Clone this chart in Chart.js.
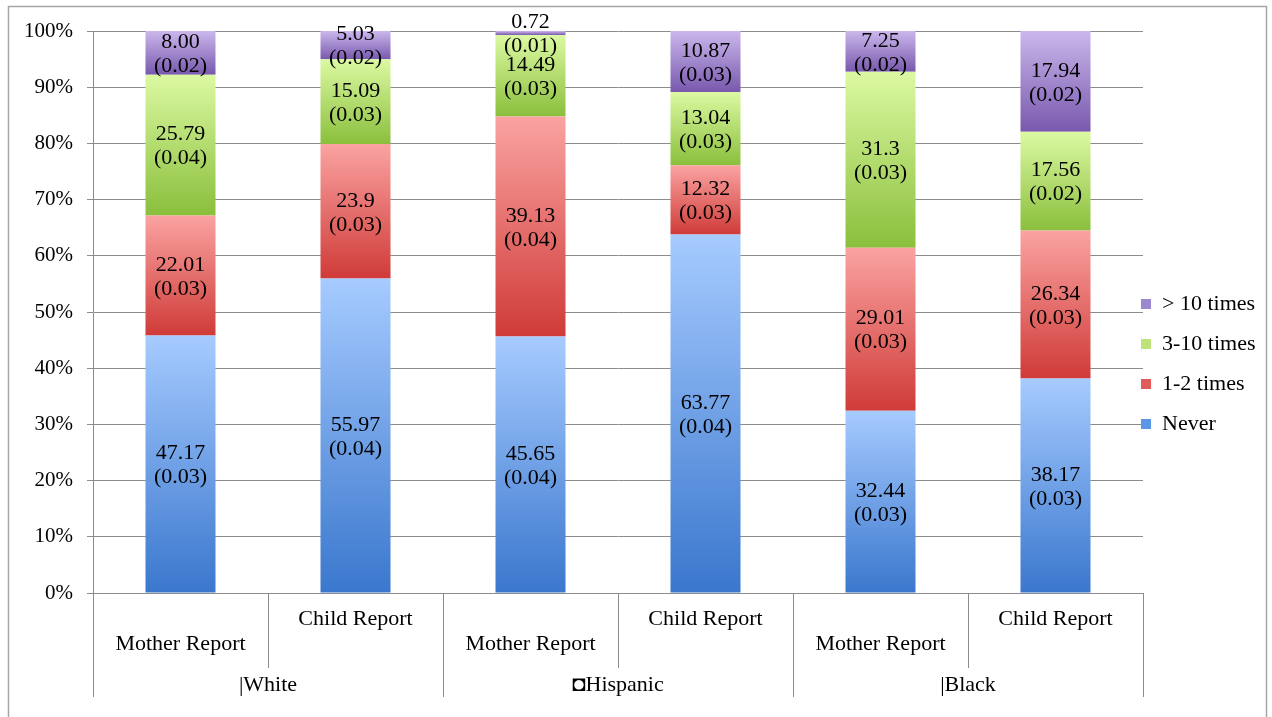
<!DOCTYPE html>
<html>
<head>
<meta charset="utf-8">
<script src="https://cdn.jsdelivr.net/npm/chart.js@4"></script>
<style>
  html, body { margin: 0; padding: 0; background: #ffffff; }
  canvas { display: block; }
</style>
</head>
<body>
<canvas id="c" width="1272" height="717"></canvas>
<script>
// ---- Data ----
const categories = ['Mother Report', 'Child Report', 'Mother Report', 'Child Report', 'Mother Report', 'Child Report'];
const groups = ['|White', '\u25D8Hispanic', '|Black'];
const seriesNames = ['Never', '1-2 times', '3-10 times', '> 10 times'];

const never      = ['47.17', '55.97', '45.65', '63.77', '32.44', '38.17'];
const neverSE    = ['(0.03)', '(0.04)', '(0.04)', '(0.04)', '(0.03)', '(0.03)'];
const once       = ['22.01', '23.9', '39.13', '12.32', '29.01', '26.34'];
const onceSE     = ['(0.03)', '(0.03)', '(0.04)', '(0.03)', '(0.03)', '(0.03)'];
const several    = ['25.79', '15.09', '14.49', '13.04', '31.3', '17.56'];
const severalSE  = ['(0.04)', '(0.03)', '(0.03)', '(0.03)', '(0.03)', '(0.02)'];
const many       = ['8.00', '5.03', '0.72', '10.87', '7.25', '17.94'];
const manySE     = ['(0.02)', '(0.02)', '(0.01)', '(0.03)', '(0.02)', '(0.02)'];

const yTicks = [0, 10, 20, 30, 40, 50, 60, 70, 80, 90, 100];

// ---- Styles ----
const gradTop    = ['#a6cbff', '#faa3a1', '#dcf9a2', '#cbb7ec'];
const gradBottom = ['#3a77cd', '#cf3b38', '#8abf3c', '#7858ad'];
const legendFill = ['#5c96e6', '#e35a5a', '#bde27a', '#9c88d0'];
const FONT = 'Liberation Serif';

const rawSeries = [never, once, several, many];
const seSeries = [neverSE, onceSE, severalSE, manySE];
const totals = categories.map((_, j) => rawSeries.reduce((s, arr) => s + parseFloat(arr[j]), 0));
const pctSeries = rawSeries.map(arr => arr.map((v, j) => parseFloat(v) / totals[j] * 100));

function segBounds(dsIndex, j) {
  let base = 0;
  for (let i = 0; i < dsIndex; i++) base += pctSeries[i][j];
  return [base, base + pctSeries[dsIndex][j]];
}

function gradientFor(dsIndex) {
  return function (ctx) {
    const chart = ctx.chart;
    const y = chart.scales && chart.scales.y;
    if (ctx.type !== 'data' || !y) return legendFill[dsIndex];
    const [b, t] = segBounds(dsIndex, ctx.dataIndex);
    const yTop = y.getPixelForValue(t);
    const yBot = y.getPixelForValue(b);
    if (!isFinite(yTop) || !isFinite(yBot) || yTop === yBot) return legendFill[dsIndex];
    const g = chart.ctx.createLinearGradient(0, yTop, 0, yBot);
    g.addColorStop(0, gradTop[dsIndex]);
    g.addColorStop(1, gradBottom[dsIndex]);
    return g;
  };
}

const datasets = seriesNames.map((name, i) => ({
  label: name,
  data: pctSeries[i],
  backgroundColor: gradientFor(i),
  borderWidth: 0,
  barPercentage: 0.4,
  categoryPercentage: 1.0,
  xAxisID: 'x',
  yAxisID: 'y'
}));

const barLabels = {
  id: 'barLabels',
  afterDatasetsDraw(chart) {
    const ctx = chart.ctx;
    ctx.save();
    ctx.font = '22px "' + FONT + '"';
    ctx.fillStyle = '#000000';
    ctx.textAlign = 'center';
    ctx.textBaseline = 'middle';
    chart.data.datasets.forEach((ds, i) => {
      const meta = chart.getDatasetMeta(i);
      meta.data.forEach((el, j) => {
        const yc = (el.y + el.base) / 2;
        ctx.fillText(rawSeries[i][j], el.x, yc - 10.5);
        ctx.fillText(seSeries[i][j], el.x, yc + 13.5);
      });
    });
    ctx.restore();
  }
};

const frame = {
  id: 'frame',
  beforeDraw(chart) {
    const ctx = chart.ctx;
    ctx.save();
    ctx.fillStyle = '#ffffff';
    ctx.fillRect(0, 0, chart.width, chart.height);
    ctx.strokeStyle = '#a6a6a6';
    ctx.lineWidth = 1.5;
    ctx.strokeRect(8.5, 6.5, 1258, 730);
    ctx.restore();
  }
};

const legendShift = {
  id: 'legendShift',
  afterLayout(chart) {
    const lg = chart.legend;
    if (!lg) return;
    lg.left -= 20;
    lg.width = 200;
    lg.right = lg.left + lg.width;
    if (lg.adjustHitBoxes) lg.adjustHitBoxes();
  }
};

new Chart(document.getElementById('c'), {
  type: 'bar',
  data: { labels: categories, datasets: datasets },
  plugins: [frame, barLabels, legendShift],
  options: {
    responsive: false,
    animation: false,
    layout: { padding: { left: 0, top: 31, right: 0, bottom: 20 } },
    plugins: {
      tooltip: { enabled: false },
      legend: {
        position: 'right',
        reverse: true,
        maxWidth: 129,
        labels: {
          boxWidth: 10,
          boxHeight: 10,
          padding: 18,
          color: '#000000',
          font: { family: FONT, size: 22 },
          generateLabels(chart) {
            const items = Chart.defaults.plugins.legend.labels.generateLabels(chart);
            items.forEach(it => {
              it.fillStyle = legendFill[it.datasetIndex];
              it.strokeStyle = legendFill[it.datasetIndex];
              it.lineWidth = 0;
            });
            return items;
          }
        }
      }
    },
    scales: {
      x: {
        type: 'category',
        position: 'bottom',
        stacked: true,
        offset: true,
        weight: 0,
        afterFit(s) { s.height = 75; },
        border: { display: true, color: '#8c8c8c', width: 1 },
        grid: { offset: true, drawOnChartArea: false, drawTicks: true, tickLength: 75, color: '#8c8c8c', lineWidth: 1 },
        ticks: {
          autoSkip: false,
          maxRotation: 0,
          minRotation: 0,
          padding: -61.5,
          color: '#000000',
          font: { family: FONT, size: 22, lineHeight: 1.14 },
          callback(value, index) {
            const lbl = categories[index];
            return index % 2 === 0 ? ['', lbl] : [lbl];
          }
        }
      },
      x2: {
        type: 'category',
        position: 'bottom',
        labels: groups,
        offset: true,
        weight: 1,
        afterFit(s) { s.height = 29; },
        border: { display: false },
        grid: { offset: true, drawOnChartArea: false, drawTicks: true, tickLength: 29, color: '#8c8c8c', lineWidth: 1 },
        ticks: {
          autoSkip: false,
          maxRotation: 0,
          minRotation: 0,
          padding: -24.5,
          color: '#000000',
          font: { family: FONT, size: 22, lineHeight: 1.14 }
        }
      },
      y: {
        type: 'linear',
        stacked: true,
        min: 0,
        max: 100,
        afterFit(s) { s.width = 93; },
        afterBuildTicks(s) { s.ticks = yTicks.map(v => ({ value: v })); },
        border: { display: true, color: '#8c8c8c', width: 1 },
        grid: { color: '#8c8c8c', lineWidth: 1, tickLength: 6 },
        ticks: {
          padding: 14,
          color: '#000000',
          font: { family: FONT, size: 21 },
          callback(v) { return v + '%'; }
        }
      }
    }
  }
});
</script>
</body>
</html>
